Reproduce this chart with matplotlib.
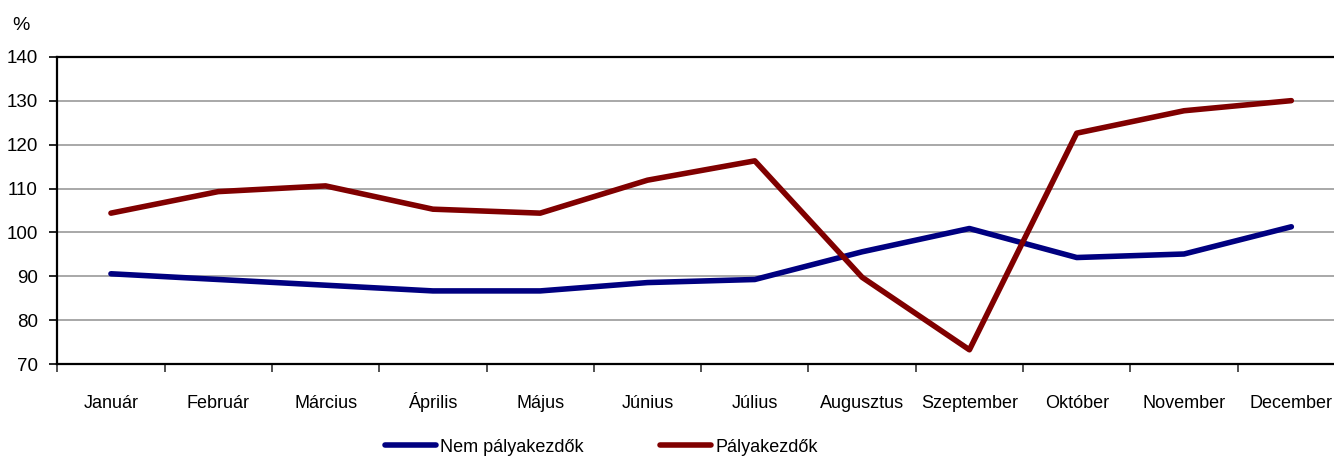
import matplotlib
matplotlib.use('Agg')
import matplotlib.pyplot as plt
from matplotlib.lines import Line2D

plt.rcParams['font.family'] = ['Liberation Sans', 'DejaVu Sans']

months = ['Január', 'Február', 'Március', 'Április', 'Május', 'Június',
          'Július', 'Augusztus', 'Szeptember', 'Október', 'November', 'December']
nem_palyakezdok = [90.6, 89.3, 88.0, 86.7, 86.7, 88.6, 89.3, 95.6, 100.9, 94.3, 95.1, 101.3]
palyakezdok = [104.4, 109.3, 110.6, 105.3, 104.4, 111.9, 116.3, 89.8, 73.3, 122.6, 127.7, 130.0]
y_ticks = [70, 80, 90, 100, 110, 120, 130, 140]

BLUE = '#000080'
RED = '#800000'
FS = 13

W, H = 1334, 457
fig = plt.figure(figsize=(W / 100, H / 100), dpi=100)
# axes runs a little past the right edge, like the cropped original
ax = fig.add_axes([57.3 / W, (H - 364.3) / H, (1345 - 57.3) / W, 307.6 / H])

x = list(range(len(months)))
ax.plot(x, nem_palyakezdok, color=BLUE, lw=4, solid_capstyle='round',
        solid_joinstyle='round', zorder=3)
ax.plot(x, palyakezdok, color=RED, lw=4, solid_capstyle='round',
        solid_joinstyle='round', zorder=3)

ax.set_xlim(-0.5, len(months) - 0.5)
ax.set_ylim(70, 140)
ax.set_yticks(y_ticks)
ax.yaxis.grid(True, color='#999999', lw=1.2)
ax.set_axisbelow(True)

# tick marks between categories, labels centred on categories
ax.set_xticks([i - 0.5 for i in range(len(months) + 1)])
ax.set_xticklabels([])
ax.set_xticks(x, minor=True)
ax.set_xticklabels(months, minor=True, fontsize=FS, va='baseline')
ax.tick_params(axis='x', which='major', length=5.5, width=1.2, color='#333333')
ax.tick_params(axis='x', which='minor', length=0, pad=31.5)
ax.tick_params(axis='y', length=6, width=1.2, pad=8, labelsize=FS + 0.5)

for s in ax.spines.values():
    s.set_linewidth(1.6)
    s.set_color('black')

fig.text(21 / W, 1 - 25 / H, '%', fontsize=FS + 1, ha='center', va='center')

h1 = [Line2D([], [], color=BLUE, lw=4, solid_capstyle='round')]
h2 = [Line2D([], [], color=RED, lw=4, solid_capstyle='round')]
for h, lab, x0 in [(h1, 'Nem pályakezdők', 385), (h2, 'Pályakezdők', 660)]:
    fig.legend(h, [lab], loc='center left', bbox_to_anchor=(x0 / W, 1 - 447 / H),
               frameon=False, fontsize=FS, borderpad=0, borderaxespad=0,
               handlelength=2.8, handletextpad=0.25)

fig.savefig('out.png', dpi=100)
